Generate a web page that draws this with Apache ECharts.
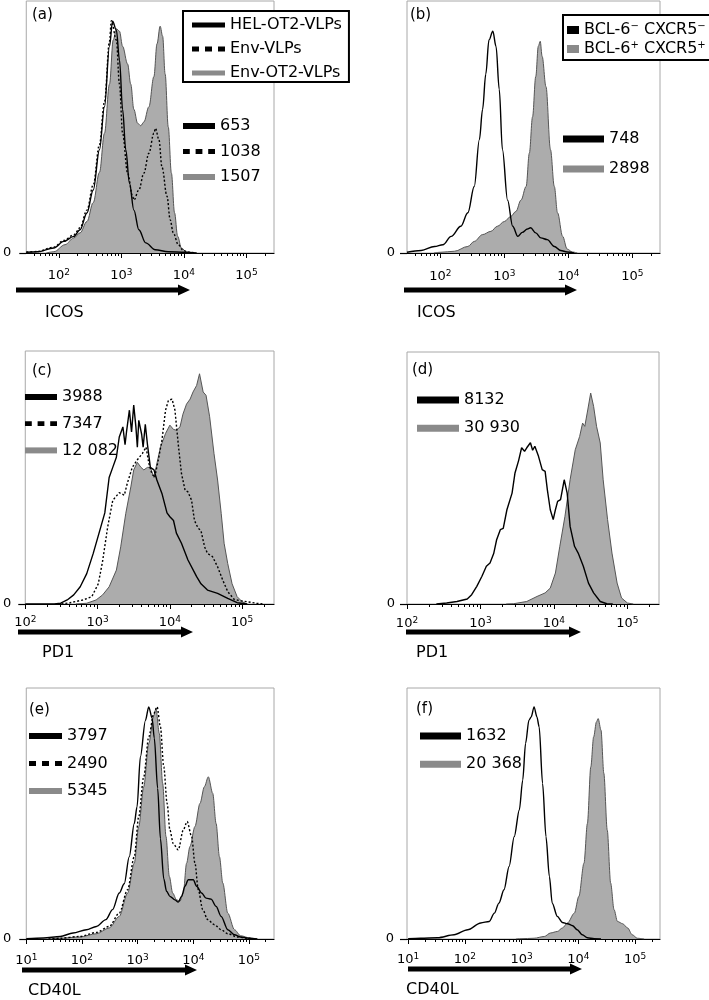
<!DOCTYPE html>
<html><head><meta charset="utf-8">
<script src="https://cdn.jsdelivr.net/npm/echarts@6/dist/echarts.min.js"></script>
<style>html,body{margin:0;padding:0;background:#fff}#c{width:709px;height:1000px}</style>
</head><body><div id="c"></div>
<script>
// ---- DATA: [log10 fluorescence, % of max (box height)] ----
// (a) ICOS
const aHel = [[1.48,0.3],[1.66,0.5],[1.92,2],[2.08,4.6],[2.24,6.6],[2.34,9.2],[2.45,15.9],[2.55,25],[2.65,41],[2.73,58],[2.81,82],[2.86,92],[2.92,88.5],[2.97,76.6],[3.02,57],[3.07,41],[3.13,27.7],[3.20,17],[3.28,9.2],[3.39,4],[3.54,1.3],[3.75,0.5],[4.02,0.3],[4.2,0]];
const aEnv = [[1.48,0.3],[1.66,0.6],[1.92,2.3],[2.08,5],[2.24,7.2],[2.34,10],[2.45,17],[2.55,27],[2.65,43],[2.73,60],[2.81,84],[2.84,92.2],[2.92,84.5],[2.97,67],[3.02,47.5],[3.10,31.7],[3.18,22.5],[3.20,21],[3.28,25],[3.36,31.7],[3.44,39.6],[3.52,47.5],[3.545,49.5],[3.60,45],[3.65,34],[3.73,22.5],[3.78,13.2],[3.83,8],[3.91,3.3],[3.99,1],[4.07,0.3],[4.2,0]];
const aEnvOt2 = [[1.80,0],[1.92,0.5],[2.10,3.3],[2.24,6],[2.34,8],[2.45,12.5],[2.55,20],[2.65,32],[2.73,47.5],[2.81,67],[2.87,84.5],[2.92,89],[2.97,88],[3.02,82],[3.10,75],[3.15,67],[3.20,57],[3.26,51.5],[3.31,50.5],[3.36,52],[3.44,58],[3.52,70],[3.57,83],[3.62,90],[3.66,86],[3.70,71],[3.75,50],[3.80,31.7],[3.85,16],[3.90,6.6],[3.96,2],[4.04,0.4],[4.15,0]];
// (b) ICOS
const bNeg = [[1.48,0.3],[1.70,1],[1.91,2.6],[2.04,3.3],[2.17,6.6],[2.32,10.6],[2.43,16],[2.53,26.4],[2.61,45],[2.66,57],[2.71,71],[2.76,84.5],[2.82,88],[2.87,82],[2.92,65],[2.97,41],[3.05,21],[3.13,10.6],[3.21,6.6],[3.28,8.2],[3.36,9.5],[3.41,10],[3.49,8],[3.57,6],[3.67,5.3],[3.78,2.6],[3.88,1],[3.98,0.4],[4.09,0]];
const bPos = [[1.90,0],[2.01,0.3],[2.22,0.7],[2.43,2.6],[2.53,4.6],[2.66,7.3],[2.79,8.6],[2.89,10.6],[3.00,12.5],[3.10,14.5],[3.18,16.5],[3.26,21],[3.34,26.4],[3.39,39.6],[3.44,54],[3.49,70],[3.53,82],[3.56,84],[3.59,78],[3.65,66],[3.72,41],[3.78,26.4],[3.83,16],[3.91,6.6],[3.98,1.6],[4.06,0.4],[4.14,0]];
// (c) PD1
const cHel = [[2.0,0],[2.40,0],[2.49,0.3],[2.58,1.6],[2.67,3.6],[2.76,6.8],[2.85,12],[2.94,20],[3.03,29],[3.10,36],[3.16,50],[3.21,54],[3.26,58],[3.30,66],[3.35,70],[3.38,63],[3.40,68],[3.44,76.6],[3.47,68],[3.50,78.6],[3.53,70],[3.55,62],[3.57,72.6],[3.61,67],[3.63,62],[3.66,71],[3.69,63],[3.73,54],[3.78,53],[3.82,49],[3.89,43.7],[3.96,36],[4.00,34.5],[4.05,33],[4.09,28],[4.16,24],[4.25,17.4],[4.37,10.8],[4.43,8],[4.52,5.5],[4.66,4.2],[4.80,2.2],[4.93,0.5],[5.07,0]];
const cEnv = [[2.50,0],[2.62,0.5],[2.80,1.6],[2.92,2.9],[3.01,8],[3.07,17],[3.14,30.5],[3.21,41],[3.30,44],[3.37,43],[3.41,47.6],[3.48,54],[3.55,57],[3.62,59.5],[3.67,62],[3.71,55.5],[3.75,51.6],[3.79,50],[3.84,57],[3.89,64.7],[3.94,76.6],[3.98,80.5],[4.03,81],[4.07,76.6],[4.12,62],[4.16,51.6],[4.21,45],[4.25,44.3],[4.30,41],[4.34,33],[4.39,30],[4.43,29],[4.48,22.6],[4.52,20],[4.59,18.7],[4.66,14.7],[4.73,9.5],[4.80,4.9],[4.89,1.8],[4.98,1.3],[5.07,0.9],[5.20,0.3],[5.30,0]];
const cEnvOt2 = [[2.70,0],[2.85,0.3],[2.98,1.6],[3.07,3.6],[3.16,6.8],[3.26,13.4],[3.32,22.6],[3.39,35.8],[3.46,46.3],[3.50,53],[3.55,56],[3.60,54],[3.64,53],[3.69,54],[3.73,54],[3.78,50],[3.82,55.5],[3.87,62],[3.94,67.4],[4.00,70.7],[4.05,69],[4.09,68.7],[4.14,70],[4.18,75],[4.23,79],[4.28,81],[4.32,83.8],[4.37,86.4],[4.41,91],[4.46,83.8],[4.50,82.5],[4.55,74],[4.61,59.5],[4.66,49],[4.71,35.8],[4.75,24],[4.80,16],[4.86,8],[4.93,2.9],[5.00,0.9],[5.07,0]];
// (d) PD1
const dNeg = [[2.40,0],[2.54,0.4],[2.68,1],[2.82,2],[2.88,3.7],[2.95,7],[3.02,11],[3.08,15],[3.13,16.3],[3.18,20],[3.22,25.5],[3.27,29.5],[3.31,30],[3.36,37.4],[3.43,44],[3.47,52],[3.52,57],[3.56,62],[3.60,60.6],[3.63,62],[3.68,64],[3.71,61],[3.74,62.6],[3.79,58.6],[3.84,53.3],[3.88,52.6],[3.91,45.4],[3.95,37.4],[3.99,33.5],[4.02,37.4],[4.05,40.7],[4.09,41.4],[4.14,49.3],[4.18,44],[4.22,30.8],[4.28,22.9],[4.33,20.2],[4.40,15],[4.47,8.3],[4.54,4.4],[4.63,1],[4.72,0.1],[4.8,0]];
const dPos = [[3.35,0],[3.45,0.1],[3.63,1],[3.77,3],[3.88,4.4],[3.95,6.3],[4.02,12.3],[4.08,22.9],[4.15,34.8],[4.22,49.3],[4.29,61.2],[4.35,66.5],[4.39,71.8],[4.42,70.5],[4.46,77],[4.50,83.7],[4.54,78.4],[4.58,70.5],[4.63,63.9],[4.67,49.3],[4.73,33.5],[4.79,20.2],[4.86,8.3],[4.92,2.4],[5.00,0.4],[5.08,0]];
// (e) CD40L
const eHel = [[1.0,0.1],[1.31,0.4],[1.61,1],[1.84,2.4],[2.08,3.7],[2.26,5],[2.43,7.7],[2.55,11.7],[2.67,18.3],[2.76,22],[2.85,32.8],[2.94,46],[2.99,52.7],[3.05,72.6],[3.14,87],[3.20,92.5],[3.26,88],[3.30,80],[3.36,60],[3.41,40],[3.47,24],[3.52,19],[3.58,17],[3.67,15.6],[3.73,14.7],[3.79,17],[3.85,21],[3.91,23.6],[4.00,23.6],[4.06,21],[4.15,18.3],[4.23,16.3],[4.32,15.9],[4.41,13],[4.50,9],[4.62,3.7],[4.74,1.7],[4.85,0.8],[5.0,0.3],[5.15,0]];
const eEnv = [[1.40,0],[1.61,0.3],[1.96,1],[2.26,2.6],[2.49,5],[2.67,10.3],[2.82,19.6],[2.94,32.8],[3.02,48.7],[3.11,64.6],[3.20,80.5],[3.29,89.8],[3.35,92.5],[3.41,84.5],[3.47,68.6],[3.53,54],[3.58,43.4],[3.64,38],[3.73,35.5],[3.82,43.4],[3.89,46.8],[3.97,40.8],[4.03,30.2],[4.09,19.6],[4.17,11.7],[4.26,7.7],[4.38,5.7],[4.50,3.7],[4.62,2.1],[4.79,0.8],[4.97,0.3],[5.1,0]];
const eEnvOt2 = [[1.40,0],[1.61,0.3],[1.96,0.8],[2.26,2.1],[2.49,4.4],[2.67,9],[2.82,18.3],[2.94,30.2],[3.02,44.8],[3.11,60.7],[3.20,77.9],[3.29,89],[3.33,91.8],[3.39,81.9],[3.45,62],[3.51,40.8],[3.57,24.9],[3.63,18.3],[3.70,15.6],[3.76,15],[3.82,18.3],[3.88,30.2],[3.94,36.8],[4.03,44.8],[4.12,54],[4.20,60.7],[4.27,64.6],[4.35,58],[4.41,46],[4.47,32.8],[4.53,22.3],[4.62,10.3],[4.74,3.7],[4.85,1.3],[5.03,0.3],[5.15,0]];
// (f) CD40L
const fNeg = [[1.0,0.1],[1.22,0.3],[1.52,0.5],[1.81,1.7],[2.05,3.7],[2.28,6.4],[2.43,7],[2.52,10.3],[2.60,14.3],[2.69,19.6],[2.78,28.9],[2.87,40.8],[2.96,51.4],[3.02,63.3],[3.07,77.9],[3.13,87.2],[3.17,88.5],[3.22,92.5],[3.27,88.5],[3.31,84.5],[3.37,62],[3.43,40.8],[3.49,24.9],[3.54,14.3],[3.63,9],[3.72,6.6],[3.81,6.1],[3.90,5.3],[3.98,3.7],[4.07,1.7],[4.16,0.5],[4.28,0.1],[4.4,0]];
const fPos = [[2.90,0],[2.99,0.1],[3.22,0.3],[3.40,1],[3.51,2.4],[3.63,3],[3.72,4.4],[3.81,6.4],[3.93,10.3],[4.01,17],[4.10,30.2],[4.16,46],[4.22,68.6],[4.27,80.5],[4.32,86.5],[4.35,87.8],[4.40,83.2],[4.45,66],[4.51,43.4],[4.57,22.3],[4.63,11.7],[4.69,7],[4.78,6.1],[4.87,4.4],[4.95,1.7],[5.04,0.3],[5.16,0]];

// labels
const panelLetters = ['(a)','(b)','(c)','(d)','(e)','(f)'];
const markerNames = ['ICOS','ICOS','PD1','PD1','CD40L','CD40L'];
const groupsA = ['HEL-OT2-VLPs','Env-VLPs','Env-OT2-VLPs'];
const groupsB = ['BCL-6{s|−} CXCR5{s|−}','BCL-6{s|+} CXCR5{s|+}'];
const mfiA = ['653','1038','1507'];
const mfiB = ['748','2898'];
const mfiC = ['3988','7347','12 082'];
const mfiD = ['8132','30 930'];
const mfiE = ['3797','2490','5345'];
const mfiF = ['1632','20 368'];
const majorAB = [2,3,4,5];
const majorCD = [2,3,4,5];
const majorEF = [1,2,3,4,5];

// ---- LAYOUT ----
const FONT = 'DejaVu Sans';
const FILL = '#acacac', EDGE = '#555', LEG_GREY = '#8a8a8a';
const panels = [
  {k:'a', grid:{left:22,top:1,width:252,height:252}, xr:[1.48,5.44], major:majorAB, tm:15, zm:15, smooth:0.35,
   ser:[['fill',aEnvOt2],['solid',aHel],['dot',aEnv]], order:[1,2,0], mfi:mfiA,
   vleg:{left:183,top:117,gap:7.5,w:32,h:6}, letter:[32,15], marker:[45,313], arrow:[16,190,290]},
  {k:'b', grid:{left:407,top:1,width:253,height:252}, xr:[1.48,5.43], major:majorAB, tm:16, zm:12, smooth:0.35,
   ser:[['fill',bPos],['solid',bNeg]], order:[1,0], mfi:mfiB,
   vleg:{left:563,top:130,gap:12,w:41,h:7}, letter:[410,15], marker:[417,313], arrow:[404,577,290]},
  {k:'c', grid:{left:21,top:351,width:253,height:253}, xr:[2.0,5.44], major:majorCD, tm:11, zm:14, smooth:false,
   ser:[['fill',cEnvOt2],['solid',cHel],['dot',cEnv]], order:[1,2,0], mfi:mfiC,
   vleg:{left:25,top:388,gap:8.7,w:32,h:6}, letter:[32,371], marker:[42,652.5], arrow:[18,193,632]},
  {k:'d', grid:{left:407,top:352,width:252,height:252}, xr:[2.0,5.43], major:majorCD, tm:12, zm:12, smooth:false,
   ser:[['fill',dPos],['solid',dNeg]], order:[1,0], mfi:mfiD,
   vleg:{left:417,top:391,gap:10.3,w:42,h:7}, letter:[412,370], marker:[416,652.5], arrow:[406,581,632]},
  {k:'e', grid:{left:22,top:688,width:252,height:251}, xr:[1.0,5.45], major:majorEF, tm:14, zm:15, smooth:0.3,
   ser:[['fill',eEnvOt2],['solid',eHel],['dot',eEnv]], order:[1,2,0], mfi:mfiE,
   vleg:{left:29,top:727,gap:9.5,w:33,h:6}, letter:[29,710], marker:[28,991], arrow:[22,197,970]},
  {k:'f', grid:{left:407,top:688,width:253,height:251}, xr:[0.98,5.44], major:majorEF, tm:13, zm:13, smooth:0.3,
   ser:[['fill',fPos],['solid',fNeg]], order:[1,0], mfi:mfiF,
   vleg:{left:420,top:727,gap:10.3,w:41,h:7}, letter:[416,709], marker:[406,990], arrow:[408,582,969]}
];

const DOT_ICON = 'path://M0,0H7V5H0Z M13,0H20V5H13Z M26,0H33V5H26Z';
function minorTicks(min, max){
  const out=[];
  for(let n=Math.floor(min); n<=Math.ceil(max); n++){
    for(let m=2;m<=9;m++){ const v=n+Math.log10(m); if(v>=min && v<=max) out.push(v); }
  }
  return out;
}
const tickRich = {
  b:{fontSize:13, lineHeight:16, fontFamily:FONT, color:'#000'},
  s:{fontSize:9, lineHeight:9, verticalAlign:'top', fontFamily:FONT, color:'#000'}
};

const grids=[], xAxes=[], yAxes=[], series=[], legends=[], graphics=[];
panels.forEach((p, i) => {
  grids.push(Object.assign({show:true, borderColor:'#a8a8a8', borderWidth:1, containLabel:false}, p.grid));
  xAxes.push({type:'value', gridIndex:i, min:p.xr[0], max:p.xr[1], position:'bottom',
    axisLine:{show:true, onZero:false, lineStyle:{color:'#000', width:1.2}},
    axisTick:{show:true, customValues:p.major, length:5, lineStyle:{color:'#000', width:1}},
    axisLabel:{show:true, customValues:p.major, margin:p.tm, showMinLabel:true, showMaxLabel:true, hideOverlap:false,
      formatter:(v)=>'{b|10}{s|'+Math.round(v)+'}', rich:tickRich},
    splitLine:{show:false}});
  xAxes.push({type:'value', gridIndex:i, min:p.xr[0], max:p.xr[1], position:'bottom',
    axisLine:{show:false}, axisLabel:{show:false}, splitLine:{show:false},
    axisTick:{show:true, customValues:minorTicks(p.xr[0],p.xr[1]), length:3, lineStyle:{color:'#000', width:1}}});
  yAxes.push({type:'value', gridIndex:i, min:0, max:100,
    axisLine:{show:false}, splitLine:{show:false},
    axisTick:{show:true, customValues:[0], length:7, lineStyle:{color:'#000', width:1.2}},
    axisLabel:{show:true, customValues:[0], margin:p.zm, fontSize:13, fontFamily:FONT, color:'#000'}});
  p.ser.forEach((s, j) => {
    const nm = p.k + j;
    const base = {type:'line', name:nm, xAxisIndex:2*i, yAxisIndex:i, data:s[1], symbol:'none', showSymbol:false,
      smooth:p.smooth, smoothMonotone:'x', animation:false, silent:true};
    if (s[0]==='fill') Object.assign(base, {lineStyle:{color:EDGE, width:1}, itemStyle:{color:LEG_GREY},
      areaStyle:{color:FILL, opacity:1}, z:2});
    else if (s[0]==='solid') Object.assign(base, {lineStyle:{color:'#000', width:1.4}, itemStyle:{color:'#000'}, z:3});
    else Object.assign(base, {lineStyle:{color:'#000', width:1.4, type:[2,2]}, itemStyle:{color:'#000'}, z:3});
    series.push(base);
  });
  const vdata = p.order.map(j => {
    const kind = p.ser[j][0];
    return {name:p.k+j, icon: kind==='dot'?DOT_ICON:'rect', itemStyle:{color: kind==='fill'?LEG_GREY:'#000', borderWidth:0}};
  });
  const mfiLookup = {};
  p.order.forEach((j, r) => { mfiLookup[p.k+j] = p.mfi[r]; });
  legends.push({show:true, orient:'vertical', left:p.vleg.left, top:p.vleg.top, padding:0, itemGap:p.vleg.gap,
    itemWidth:p.vleg.w, itemHeight:p.vleg.h, selectedMode:false, data:vdata,
    itemStyle:{borderWidth:0},
    textStyle:{fontSize:16, fontFamily:FONT, color:'#000', lineHeight:18},
    formatter:(n)=>mfiLookup[n]});
  const [x0,x1,y]=p.arrow;
  graphics.push({type:'polygon', silent:true, shape:{points:[[x0,y-2.5],[x1-12,y-2.5],[x1-12,y-5.5],[x1,y],[x1-12,y+5.5],[x1-12,y+2.5],[x0,y+2.5]]}, style:{fill:'#000'}});
  graphics.push({type:'text', silent:true, x:p.letter[0], y:p.letter[1], style:{text:panelLetters[i], fill:'#000', fontSize:15, fontFamily:FONT, verticalAlign:'middle', align:'left'}});
  graphics.push({type:'text', silent:true, x:p.marker[0], y:p.marker[1], style:{text:markerNames[i], fill:'#000', fontSize:16, fontFamily:FONT, verticalAlign:'middle', align:'left'}});
});

legends.push({show:true, orient:'vertical', left:183, top:11, padding:[5,7,0,9], itemGap:6, itemWidth:33, itemHeight:5,
  borderColor:'#000', borderWidth:2, backgroundColor:'#fff', selectedMode:false,
  itemStyle:{borderWidth:0},
  data:[{name:'a1', icon:'rect', itemStyle:{color:'#000', borderWidth:0}},
        {name:'a2', icon:DOT_ICON, itemStyle:{color:'#000', borderWidth:0}},
        {name:'a0', icon:'rect', itemStyle:{color:LEG_GREY, borderWidth:0}}],
  textStyle:{fontSize:16, fontFamily:FONT, color:'#000', lineHeight:18},
  formatter:(n)=>({a1:groupsA[0], a2:groupsA[1], a0:groupsA[2]})[n]});
legends.push({show:true, orient:'vertical', left:563, top:15, padding:[6,6,2,4], itemGap:1, itemWidth:12, itemHeight:8,
  borderColor:'#000', borderWidth:2, backgroundColor:'#fff', selectedMode:false,
  itemStyle:{borderWidth:0},
  data:[{name:'b1', icon:'rect', itemStyle:{color:'#000', borderWidth:0}},
        {name:'b0', icon:'rect', itemStyle:{color:LEG_GREY, borderWidth:0}}],
  textStyle:{fontSize:16, fontFamily:FONT, color:'#000', lineHeight:18,
    rich:{s:{fontSize:10, lineHeight:10, verticalAlign:'top', fontFamily:FONT, color:'#000'}}},
  formatter:(n)=>({b1:groupsB[0], b0:groupsB[1]})[n]});

const chart = echarts.init(document.getElementById('c'));
chart.setOption({animation:false, backgroundColor:'#fff', grid:grids, xAxis:xAxes, yAxis:yAxes, series:series, legend:legends, graphic:graphics});
</script></body></html>
